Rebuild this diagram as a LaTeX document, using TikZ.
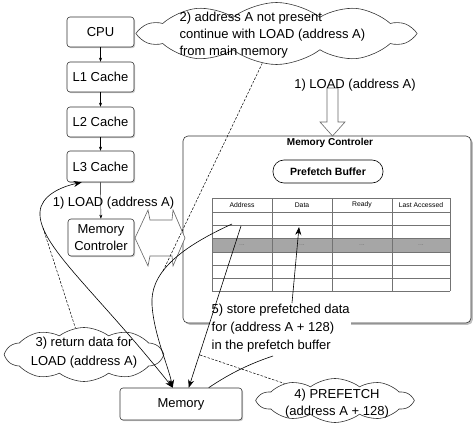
\documentclass[tikz,border=0pt]{standalone}
\usepackage{fontspec}
\setmainfont{Liberation Sans}
\usetikzlibrary{shapes.symbols,shadows,arrows.meta}
\definecolor{edge}{gray}{0.2}
\definecolor{hollow}{gray}{0.4}
\definecolor{rowgray}{gray}{0.65}
\definecolor{gridline}{gray}{0.45}

\begin{document}
\begin{tikzpicture}[x=1pt,y=-1pt,
  every node/.style={font=\fontsize{13}{17}\selectfont, text=black},
  unit/.style={draw=edge, line width=0.6pt, rounded corners=3pt, fill=white,
    minimum width=67pt, minimum height=30pt, inner sep=1pt, align=center,
    drop shadow={shadow xshift=1.2pt, shadow yshift=-1.2pt, opacity=0.4}},
  panel/.style={draw=edge, line width=0.6pt, rounded corners=5pt, fill=white,
    drop shadow={shadow xshift=1.8pt, shadow yshift=-1.8pt, opacity=0.5}},
  bubble/.style={cloud, cloud puffs=10, cloud puff arc=75, cloud ignores aspect,
    draw=edge, line width=0.6pt, fill=white, inner sep=0pt},
  conn/.style={draw=black, line width=0.6pt},
  calloutline/.style={draw=black, line width=0.5pt, dash pattern=on 2.5pt off 1.5pt},
  bighead/.style={-{Stealth[length=8pt,width=6pt]}},
  bothheads/.style={{Stealth[length=8pt,width=6pt]}-{Stealth[length=8pt,width=6pt]}},
  smallhead/.style={-{Stealth[length=4pt,width=3pt]}},
  hdr/.style={font=\fontsize{6.8}{8}\selectfont},
  cellgap/.style={font=\fontsize{6.8}{8}\selectfont, text=black!55},
  hollowarrow/.style={draw=hollow, line width=0.6pt, fill=white},
]
\useasboundingbox (0,0) rectangle (474,425);

% callout clouds
\node[bubble, minimum width=271pt, minimum height=62pt] (c2) at (276.5,33.5) {};
\node[align=left, anchor=west] (c2txt) at (176,35)
  {2) address A not present\\continue with LOAD (address A)\\from main memory};
\node[bubble, minimum width=156pt, minimum height=54pt] (c3) at (84,354.5) {};
\node[align=center, font=\fontsize{13}{19}\selectfont] (c3txt) at (84,352.5)
  {3) return data for\\LOAD (address A)};
\node[bubble, minimum width=154pt, minimum height=44pt] (c4) at (335,400.5) {};
\node[align=center] (c4txt) at (337,403.5) {4) PREFETCH\\(address A + 128)};

% cache hierarchy
\node[unit] (cpu) at (100.5,32) {CPU};
\node[unit] (l1) at (100.5,77) {L1 Cache};
\node[unit] (l2) at (100.5,122) {L2 Cache};
\node[unit, minimum height=31pt] (l3) at (100.5,166.5) {L3 Cache};
\node[unit, minimum width=66pt, minimum height=37pt] (mc) at (101,237.5) {Memory\\Controler};
\node[unit, minimum width=122pt, minimum height=32pt] (mem) at (181,404) {Memory};

\draw[conn, smallhead, line width=0.4pt] (cpu) -- (l1);
\draw[conn, smallhead, line width=0.4pt] (l1) -- (l2);
\draw[conn, smallhead, line width=0.4pt] (l2) -- (l3);
\draw[conn, smallhead, line width=0.4pt] (l3) -- (mc);
\node (loadleft) at (113.5,203) {1) LOAD (address A)};

% memory controller with its prefetch buffer
\node[panel, minimum width=288pt, minimum height=187pt] (ctrl) at (327,229.5) {};
\node[font=\bfseries\fontsize{10}{12}\selectfont] (ctrltitle) at (330,143) {Memory Controler};
\node[draw=black, line width=0.6pt, rounded corners=11pt, minimum width=110pt,
  minimum height=23pt, inner sep=0pt, font=\bfseries\fontsize{10.5}{12}\selectfont]
  (pb) at (328,171.5) {Prefetch Buffer};

\fill[rowgray] (212,238) rectangle (450,252);
\foreach \y in {198,212,225,238,252,265,278,291}
  \draw[gridline, line width=0.5pt] (212,\y) -- (450,\y);
\foreach \x in {212,272,332,392,450}
  \draw[gridline, line width=0.5pt] (\x,198) -- (\x,291);
\node[hdr] (hA) at (242,205) {Address};
\node[hdr] (hD) at (302,205) {Data};
\node[hdr] (hR) at (362,205) {Ready};
\node[hdr] (hL) at (421,205) {Last Accessed};
\node[cellgap] (gA) at (242,245) {...};
\node[cellgap] (gD) at (302,245) {...};
\node[cellgap] (gR) at (362,245) {...};
\node[cellgap] (gL) at (421,245) {...};

\node[align=left, fill=white, inner sep=1.5pt, anchor=west,
  font=\fontsize{13}{18}\selectfont] (store) at (210,328)
  {5) store prefetched data\\for (address A + 128)\\in the prefetch buffer};

% hollow transfer arrows
\draw[hollowarrow] (135,238) -- (148,210) -- (150,220) -- (172,220) -- (173,210)
  -- (185,238) -- (173,266) -- (172,256) -- (150,256) -- (148,266) -- cycle;
\draw[hollowarrow] (327,88) -- (338,88) -- (338,122) -- (345,122) -- (332.5,136)
  -- (320,122) -- (327,122) -- cycle;
\node (loadright) at (355,85) {1) LOAD (address A)};

% connector end points
\path (l3.south west) ++(15,0) coordinate (l3in);
\path (mem.north west) ++(53,0) coordinate (memA);
\path (mem.north west) ++(69,0) coordinate (memB);
\path (mem.north west) ++(89,0) coordinate (memC);
\coordinate (bufA) at (232,224);
\coordinate (bufB) at (241,226);
\coordinate (dataC) at (299,227);
\coordinate (storeT) at (292,303);
\coordinate (storeB) at (273,356);
\coordinate (j1) at (43,228);
\coordinate (j2) at (163,271);
\coordinate (j3) at (200,355);

% data movement
\draw[conn, bothheads] (memA) .. controls (95,290) and (38,245) .. (40,212)
  .. controls (41,196) and (60,187) .. (l3in);
\draw[conn, bighead] (bufA) .. controls (175,250) and (150,275) .. (152,305)
  .. controls (154,335) and (168,365) .. (memA);
\draw[conn, bighead] (bufB) -- (memB);
\draw[conn] (memC) .. controls (232,372) and (252,363) .. (storeB);
\draw[conn, bighead] (storeT) -- (dataC);

% callout pointers
\draw[calloutline] (j1) -- (c3);
\draw[calloutline] (j2) -- (c2);
\draw[calloutline] (j3) -- (c4);
\end{tikzpicture}
\end{document}
